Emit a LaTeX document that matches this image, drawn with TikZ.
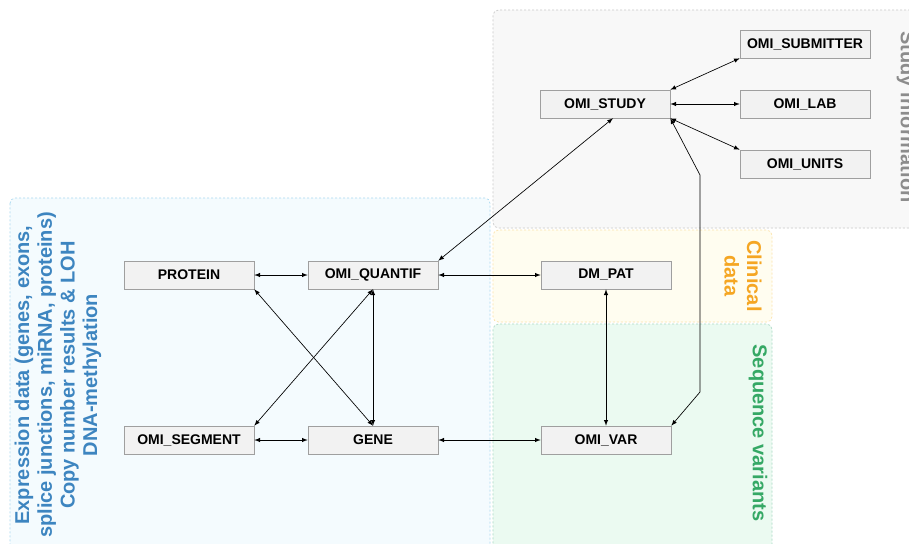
\documentclass[tikz,border=0pt]{standalone}
\usepackage{fontspec}
\setmainfont{Liberation Sans}
\usepackage{xcolor}
\usetikzlibrary{shapes.geometric, arrows, shadows}
\definecolor{tablegray}{HTML}{F2F2F2}
\definecolor{studyfill}{HTML}{F8F8F8}
\definecolor{studyline}{HTML}{C8C8C8}
\definecolor{studytext}{HTML}{8C8C8C}
\definecolor{exprfill}{HTML}{F4FBFE}
\definecolor{exprline}{HTML}{A8D8F0}
\definecolor{exprtext}{HTML}{3D85C0}
\definecolor{clinfill}{HTML}{FFFDF0}
\definecolor{clinline}{HTML}{FCE2A8}
\definecolor{clintext}{HTML}{F5A623}
\definecolor{seqfill}{HTML}{EBFAF1}
\definecolor{seqline}{HTML}{A8D8C4}
\definecolor{seqtext}{HTML}{35A865}

\begin{document}
\begin{tikzpicture}[x=0.75pt, y=-0.75pt, >=latex,
  table/.style={draw=gray!75, fill=tablegray, minimum width=97.5pt, minimum height=21pt,
    inner sep=1pt, font=\fontsize{10.5}{12}\selectfont\bfseries,
    drop shadow={shadow xshift=0.8pt, shadow yshift=-0.8pt, opacity=0.35}},
  region/.style={rounded corners=4pt, dash pattern=on 1.5pt off 1.5pt, line width=0.5pt},
  regionlabel/.style={font=\fontsize{15}{17}\selectfont\bfseries, align=center},
  link/.style={<->, line width=0.5pt}]
\clip (0,0) rectangle (909,543);
\fill[white] (0,0) rectangle (909,543);

\draw[region, draw=studyline, fill=studyfill] (493,10) rectangle (930,228);
\draw[region, draw=exprline, fill=exprfill] (10,198) rectangle (490,560);
\draw[region, draw=clinline, fill=clinfill] (493,230) rectangle (772,322);
\draw[region, draw=seqline, fill=seqfill] (493,324) rectangle (772,560);

\node[regionlabel, text=studytext, rotate=-90] (studylbl) at (906,117) {Study information};
\node[regionlabel, text=clintext, rotate=-90] (clinlbl) at (743,276) {Clinical\\data};
\node[regionlabel, text=seqtext, rotate=-90] (seqlbl) at (758,433) {Sequence variants};
\node[regionlabel, text=exprtext, rotate=90] (exprlbl) at (58,375)
  {Expression data (genes, exons,\\splice junctions, miRNA, proteins)\\Copy number results \& LOH\\DNA-methylation};

\node[table] (submitter) at (805,44) {OMI\_SUBMITTER};
\node[table] (lab) at (805,104) {OMI\_LAB};
\node[table] (units) at (805,164) {OMI\_UNITS};
\node[table] (study) at (605,104) {OMI\_STUDY};
\node[table] (protein) at (189,275) {PROTEIN};
\node[table] (quantif) at (373,275) {OMI\_QUANTIF};
\node[table] (dmpat) at (606,275) {DM\_PAT};
\node[table] (segment) at (189,440) {OMI\_SEGMENT};
\node[table] (gene) at (373,440) {GENE};
\node[table] (var) at (606,440) {OMI\_VAR};

\coordinate (bendtop) at (700,175);
\coordinate (bendbot) at (700,392);

\draw[link] (study.north east) -- (submitter.south west);
\draw[link] (study.east) -- (lab.west);
\draw[link] (study.south east) -- (units.north west);
\draw[link] (quantif.north east) -- ([xshift=6pt]study.south);
\draw[link] (study.south east) -- (bendtop) -- (bendbot) -- (var.north east);
\draw[link] (protein.east) -- (quantif.west);
\draw[link] (quantif.east) -- (dmpat.west);
\draw[link] (protein.south east) -- (gene.north);
\draw[link] (quantif.south) -- (segment.north east);
\draw[link] (quantif.south) -- (gene.north);
\draw[link] (segment.east) -- (gene.west);
\draw[link] (gene.east) -- (var.west);
\draw[link] (dmpat.south) -- (var.north);
\end{tikzpicture}
\end{document}
